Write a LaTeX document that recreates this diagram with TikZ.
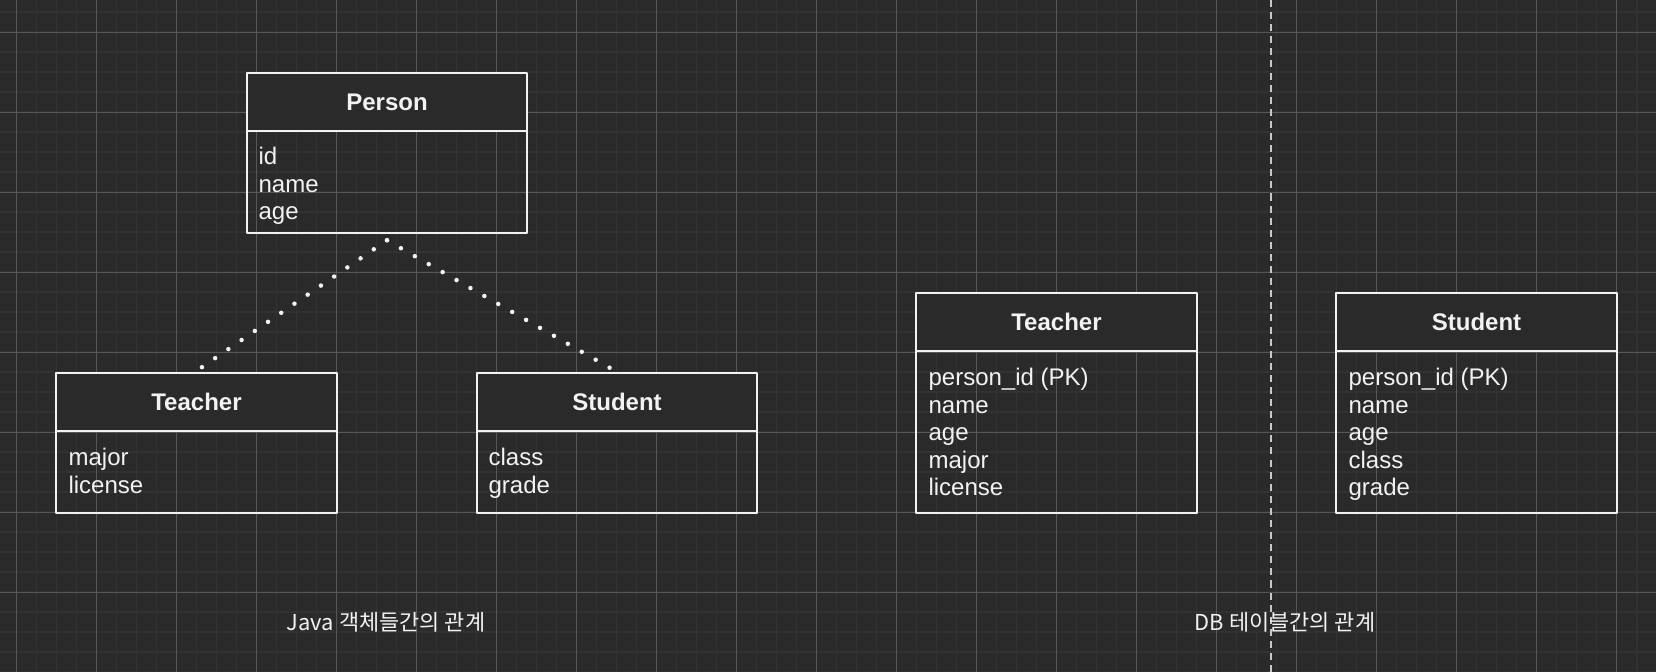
\documentclass[tikz,border=0pt]{standalone}
\usepackage{fontspec}
\setmainfont{Liberation Sans}
\newfontfamily\krfont{Noto Sans CJK KR}
\usetikzlibrary{positioning}
\definecolor{bgcol}{HTML}{2A2A2A}
\definecolor{gridminor}{HTML}{323232}
\definecolor{gridmajor}{HTML}{575757}
\definecolor{fgcol}{HTML}{F2F2F2}
\definecolor{sepcol}{HTML}{C8C8C8}
\begin{document}
\begin{tikzpicture}[x=0.0125cm,y=-0.0125cm,line join=round,
		font=\fontsize{8.54}{9.8}\selectfont,
		head/.style={draw=fgcol,fill=bgcol,line width=0.7pt,minimum width=3.5cm,minimum height=0.725cm,inner sep=0pt,outer sep=0pt,text=fgcol,font=\fontsize{8.54}{9.8}\selectfont\bfseries},
		body/.style={draw=fgcol,line width=0.7pt,minimum width=3.5cm,inner sep=0pt,outer sep=0pt,anchor=north},
		attr/.style={anchor=base west,text=fgcol,inner sep=0pt},
		caption/.style={anchor=base,text=fgcol,font=\krfont\fontsize{7.8}{9}\selectfont},
		inherit/.style={draw=fgcol,line width=1.6pt,line cap=round,dash pattern=on 0pt off 5.7pt}]
	\useasboundingbox (0,0) rectangle (1656,672);
	\fill[bgcol] (0,0) rectangle (1656,672);
	\begin{scope}
		\clip (0,0) rectangle (1656,672);
		\foreach \x in {-3.5,16.5,...,1660}\draw[gridminor,line width=0.7pt] (\x,0)--(\x,672);
		\foreach \y in {12.3,32.3,...,680}\draw[gridminor,line width=0.7pt] (0,\y)--(1656,\y);
		\foreach \x in {16.5,96.5,...,1660}\draw[gridmajor,line width=0.36pt] (\x,0)--(\x,672);
		\foreach \y in {32.3,112.3,...,680}\draw[gridmajor,line width=0.36pt] (0,\y)--(1656,\y);
	\end{scope}
	\draw[sepcol,line width=0.8pt,dash pattern=on 2.5pt off 1.8pt] (1271,0)--(1271,672);
	% java objects
	\node[head] (person) at (387,102) {Person};
	\node[body,minimum height=1.275cm] (personbody) at (person.south) {};
	\foreach \t [count=\i] in {id,name,age}
	\node[attr] (person\i) at (258,{130.7+34+27.5*(\i-1)}) {\t};
	\node[head] (jteacher) at (196.5,402) {Teacher};
	\node[body,minimum height=1.025cm] (jteacherbody) at (jteacher.south) {};
	\foreach \t [count=\i] in {major,license}
	\node[attr] (jteacher\i) at (68,{430.7+35+27.5*(\i-1)}) {\t};
	\node[head] (jstudent) at (617,402) {Student};
	\node[body,minimum height=1.025cm] (jstudentbody) at (jstudent.south) {};
	\foreach \t [count=\i] in {class,grade}
	\node[attr] (jstudent\i) at (488,{430.7+35+27.5*(\i-1)}) {\t};
	\coordinate (apex) at ([yshift=-0.09cm]personbody.south);
	\draw[inherit] (apex)--([xshift=0.05cm,yshift=0.06cm]jteacher.north);
	\draw[inherit] (apex)--([xshift=-0.03cm,yshift=0.03cm]jstudent.north);
	% db tables
	\node[head] (dteacher) at (1056.5,322) {Teacher};
	\node[body,minimum height=2.025cm] (dteacherbody) at (dteacher.south) {};
	\foreach \t [count=\i] in {person\_id (PK),name,age,major,license}
	\node[attr] (dteacher\i) at (928,{350.7+35+27.5*(\i-1)}) {\t};
	\node[head] (dstudent) at (1476.5,322) {Student};
	\node[body,minimum height=2.025cm] (dstudentbody) at (dstudent.south) {};
	\foreach \t [count=\i] in {person\_id (PK),name,age,class,grade}
	\node[attr] (dstudent\i) at (1348,{350.7+35+27.5*(\i-1)}) {\t};
	% captions
	\node[caption] (javacap) at (386,631) {Java 객체들간의 관계};
	\node[caption] (dbcap) at (1285,631) {DB 테이블간의 관계};
\end{tikzpicture}
\end{document}
